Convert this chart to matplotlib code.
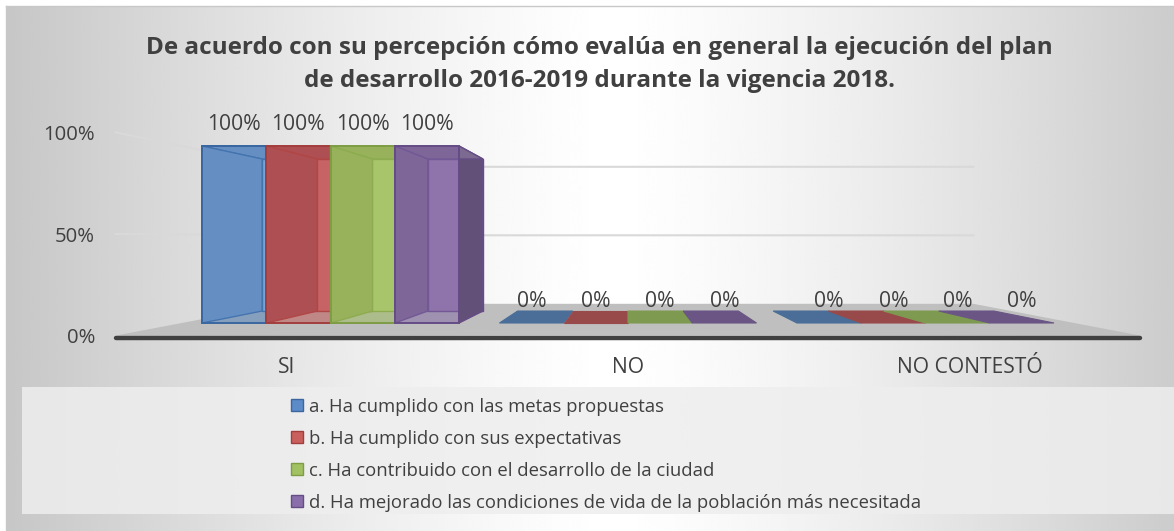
import numpy as np
import matplotlib.pyplot as plt
from matplotlib.patches import Polygon, Rectangle, Patch

categories = ['SI', 'NO', 'NO CONTESTÓ']
series_names = ['a. Ha cumplido con las metas propuestas',
                'b. Ha cumplido con sus expectativas',
                'c. Ha contribuido con el desarrollo de la ciudad',
                'd. Ha mejorado las condiciones de vida de la población más necesitada']
values_a = [100, 0, 0]
values_b = [100, 0, 0]
values_c = [100, 0, 0]
values_d = [100, 0, 0]
y_ticks = [0, 50, 100]
y_tick_labels = ['0%', '50%', '100%']
title = ('De acuerdo con su percepción cómo evalúa en general la ejecución del plan\n'
         'de desarrollo 2016-2019 durante la vigencia 2018.')

W, H = 1174, 531
plt.rcParams['font.family'] = ['Open Sans', 'DejaVu Sans']
TXT = '#404040'

# perspective: vanishing point and depth scales (bar front plane = 1)
VX, VY = 1.0, 48.0
FLOOR_FRONT, BAR_BACK, WALL = 1.148, 0.859, 0.774
BAR_W = 0.216

front_cols = ['#4F81BD', '#C0504D', '#9BBB59', '#8064A2']
side_cols = ['#7D9FCB', '#9C4E5D', '#95A95F', '#7C6A90']
back_cols = ['#A5C5EF', '#D0787F', '#B9D17F', '#9E86B4']
right_cols = ['#3E6496', '#8E3B3B', '#6E8B3E', '#625079']
edge_cols = ['#3A67A0', '#A23E3E', '#7E9D45', '#654C86']
flat_cols = ['#4A6E97', '#984A4B', '#7E9A50', '#6A5585']
legend_cols = ['#5B8BC8', '#C9605E', '#A2C163', '#8A6EAB']


def proj(x, y, s):
    return VX + (x - VX) * s, VY + (y - VY) * s


def quad(p):
    # p: list of (x, y, depth)
    return [proj(x, y, s) for x, y, s in p]


fig = plt.figure(figsize=(W / 100, H / 100), dpi=100)

# background (chart area gradient + legend box)
bg = fig.add_axes([0, 0, 1, 1])
bg.set_xlim(0, W)
bg.set_ylim(H, 0)
bg.axis('off')
u = (np.linspace(0, W, 600) - 0.52 * W) / (0.5 * W)
grad = 1 - 0.21 * np.abs(u) ** 1.3
bg.imshow(np.tile(grad, (10, 1)), cmap='gray', vmin=0, vmax=1, aspect='auto',
          extent=(6, W, H, 6), interpolation='bicubic')
bg.plot([6, W], [6, 6], color='#C8C8C8', lw=1)
bg.plot([6, 6], [6, H], color='#C8C8C8', lw=1)
bg.add_patch(Rectangle((22, 387), W - 22, 127, facecolor='#EEEEEE', alpha=0.85, lw=0))

ax = fig.add_axes([0, 0, 1, 1])
ax.patch.set_alpha(0)
ax.set_xlim(-330.5 / 297.5, (W - 330.5) / 297.5)
ax.set_ylim(-(H - 323) / 1.77, 323 / 1.77)
ax.axis('off')

x0, x1 = -0.5, len(categories) - 0.5

# gridlines on left wall and back wall
for t in y_ticks[1:]:
    pts = quad([(x0, t, FLOOR_FRONT), (x0, t, WALL), (x1, t, WALL)])
    ax.plot([p[0] for p in pts], [p[1] for p in pts], color='#D9D9D9', lw=1.5, zorder=1)

# floor
ax.add_patch(Polygon(quad([(x0, 0, FLOOR_FRONT), (x1, 0, FLOOR_FRONT),
                           (x1, 0, WALL), (x0, 0, WALL)]),
                     facecolor='#BFBFBF', edgecolor='none', zorder=2))
fl, fr = proj(x0, 0, FLOOR_FRONT), proj(x1, 0, FLOOR_FRONT)
ax.plot([fl[0], fr[0]], [fl[1] - 1.2, fr[1] - 1.2], color='#404040', lw=3.2,
        solid_capstyle='round', zorder=2.5)

# y tick labels on front edge of left wall
for t, lab in zip(y_ticks, y_tick_labels):
    ax.text((95 - 330.5) / 297.5, proj(x0, t, FLOOR_FRONT)[1] - 1.6, lab,
            ha='right', va='center', fontsize=14.6, color=TXT)

# category labels along floor front
for i, cat in enumerate(categories):
    ax.text(proj(i, 0, FLOOR_FRONT)[0], -25.4, cat, ha='center', va='center',
            fontsize=15.2, color=TXT)

series = [values_a, values_b, values_c, values_d]
n = len(series)
for i in range(len(categories)):
    for j, vals in enumerate(series):
        v = vals[i]
        xl = i - n * BAR_W / 2 + j * BAR_W
        xr = xl + BAR_W
        z = 3 + j
        if v > 0:
            # back face
            ax.add_patch(Polygon(quad([(xl, 0, BAR_BACK), (xr, 0, BAR_BACK),
                                       (xr, v, BAR_BACK), (xl, v, BAR_BACK)]),
                                 facecolor=back_cols[j], edgecolor=edge_cols[j],
                                 lw=1, zorder=z))
            # top face (seen through the front)
            ax.add_patch(Polygon(quad([(xl, v, 1), (xr, v, 1),
                                       (xr, v, BAR_BACK), (xl, v, BAR_BACK)]),
                                 facecolor=side_cols[j], edgecolor=edge_cols[j],
                                 lw=1, zorder=z + 0.1))
            # left side face
            ax.add_patch(Polygon(quad([(xl, 0, 1), (xl, 0, BAR_BACK),
                                       (xl, v, BAR_BACK), (xl, v, 1)]),
                                 facecolor=side_cols[j], edgecolor=edge_cols[j],
                                 lw=1, zorder=z + 0.1))
            if j == n - 1:
                ax.add_patch(Polygon(quad([(xr, 0, 1), (xr, 0, BAR_BACK),
                                           (xr, v, BAR_BACK), (xr, v, 1)]),
                                     facecolor=right_cols[j], edgecolor=edge_cols[j],
                                     lw=1, zorder=z))
            ax.bar(xl, v, width=BAR_W, align='edge', color=front_cols[j], alpha=0.5,
                   edgecolor='none', zorder=z + 0.3)
            ax.bar(xl, v, width=BAR_W, align='edge', facecolor='none',
                   edgecolor=edge_cols[j], lw=1.4, zorder=z + 0.4)
        else:
            ax.add_patch(Polygon(quad([(xl, 0, 1), (xr, 0, 1),
                                       (xr, 0, BAR_BACK), (xl, 0, BAR_BACK)]),
                                 facecolor=flat_cols[j], edgecolor=flat_cols[j],
                                 lw=0.8, zorder=z))
        ax.text(xl + BAR_W / 2, v + 12, f'{v}%', ha='center', va='center',
                fontsize=15.2, color=TXT, zorder=10)

fig.text(599 / W, 1 - 64.5 / H, title, ha='center', va='center', fontsize=17.5,
         fontweight='bold', color=TXT, linespacing=1.48)

handles = [Patch(facecolor=legend_cols[j], edgecolor=edge_cols[j], lw=1)
           for j in range(n)]
fig.legend(handles, series_names, loc='upper left', bbox_to_anchor=(291 / W, 1 - 397.5 / H),
           frameon=False, fontsize=13.3, handlelength=0.66, handleheight=0.66,
           handletextpad=0.33, labelspacing=0.76, borderpad=0, borderaxespad=0,
           labelcolor=TXT)

fig.savefig('out.png', dpi=100)
